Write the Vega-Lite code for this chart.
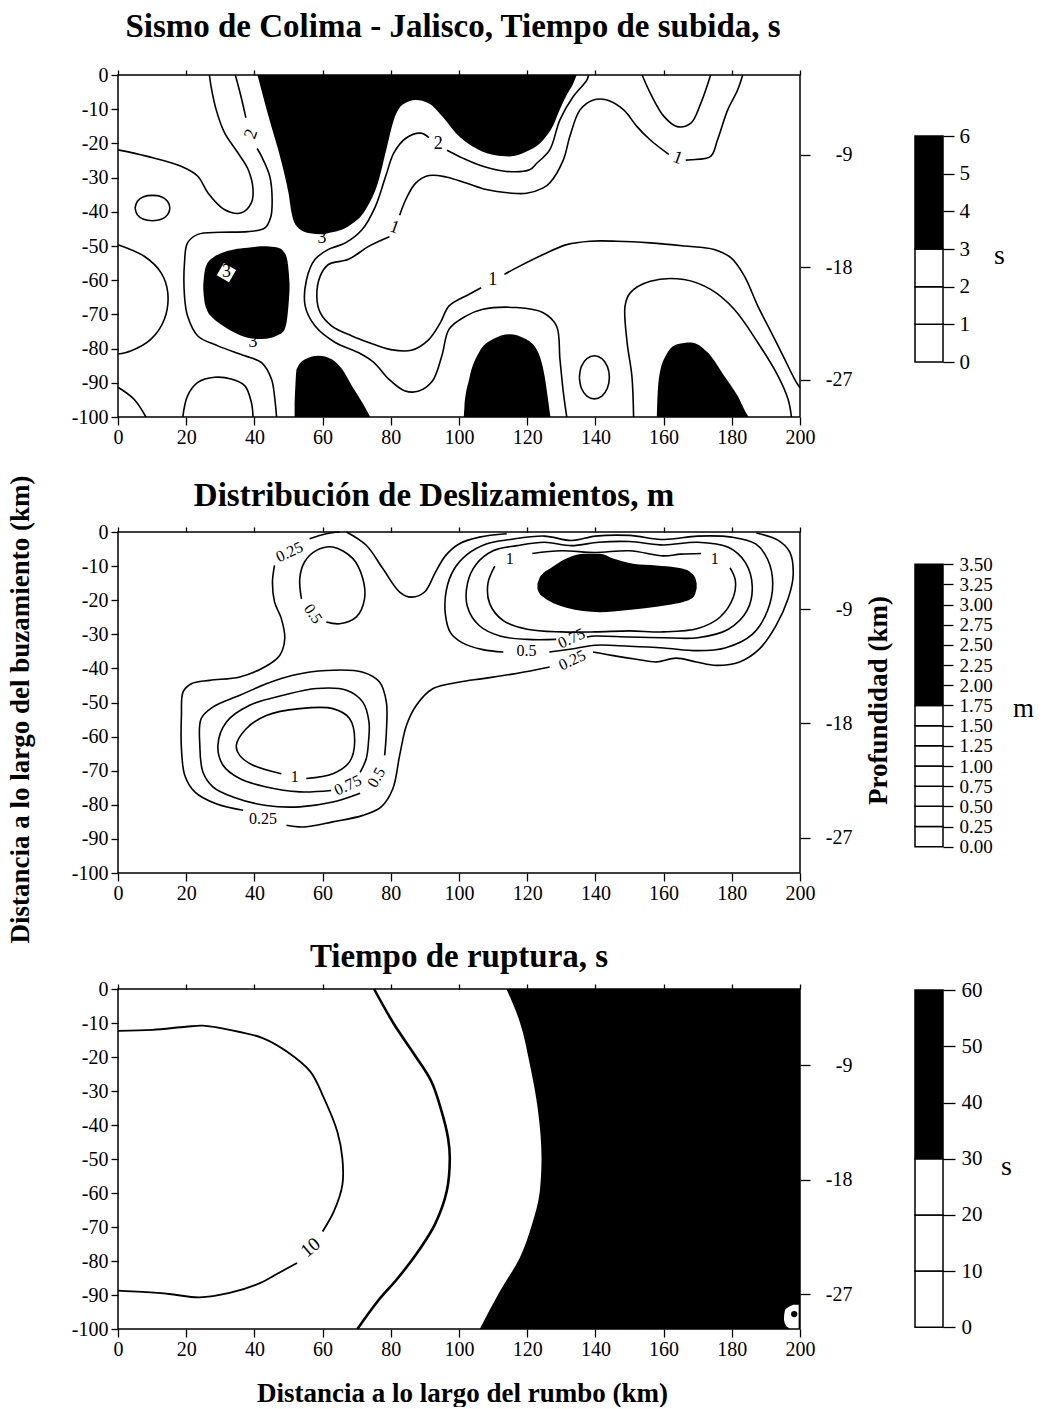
{
  "$schema": "https://vega.github.io/schema/vega-lite/v6.json",
  "background": "white",
  "padding": {"left": 5, "top": 10, "right": 0, "bottom": 0},
  "config": {
    "font": "Liberation Serif",
    "view": {"stroke": "black", "strokeWidth": 1.5},
    "axis": {"labelFont": "Liberation Serif", "labelFontSize": 20, "labelColor": "black", "tickColor": "black", "tickWidth": 1.3, "domainColor": "black", "grid": false, "labelFlush": false, "labelOverlap": false, "labelBound": false, "titleFont": "Liberation Serif", "titleFontSize": 27, "titleFontWeight": "bold", "titleColor": "black"},
    "title": {"font": "Liberation Serif", "fontSize": 33, "fontWeight": "bold", "color": "black", "anchor": "middle", "frame": "group", "baseline": "alphabetic"},
    "text": {"font": "Liberation Serif", "color": "black"}
  },
  "datasets": {
    "t_area": [
      {"g": "A", "x": 40.9, "y": 0, "y2": 0}, {"g": "A", "x": 43.1, "y": -8.3, "y2": 0}, {"g": "A", "x": 45, "y": -15.1, "y2": 0}, {"g": "A", "x": 47, "y": -21.9, "y2": 0}, {"g": "A", "x": 48.5, "y": -27.7, "y2": 0}, {"g": "A", "x": 50, "y": -34.5, "y2": 0}, {"g": "A", "x": 50.9, "y": -40.3, "y2": 0}, {"g": "A", "x": 52.4, "y": -44.2, "y2": 0}, {"g": "A", "x": 55.9, "y": -46.2, "y2": 0}, {"g": "A", "x": 59.8, "y": -46.6, "y2": 0}, {"g": "A", "x": 61.7, "y": -46.2, "y2": 0}, {"g": "A", "x": 67.6, "y": -44.2, "y2": 0}, {"g": "A", "x": 72.6, "y": -39.4, "y2": 0}, {"g": "A", "x": 76.5, "y": -30.6, "y2": 0}, {"g": "A", "x": 78.9, "y": -20.9, "y2": 0}, {"g": "A", "x": 80.9, "y": -13.1, "y2": 0}, {"g": "A", "x": 83.4, "y": -8.7, "y2": 0}, {"g": "A", "x": 87.3, "y": -7.3, "y2": 0}, {"g": "A", "x": 91.2, "y": -8.3, "y2": 0}, {"g": "A", "x": 95.2, "y": -12.2, "y2": 0}, {"g": "A", "x": 99.1, "y": -17, "y2": 0}, {"g": "A", "x": 104, "y": -20.9, "y2": 0}, {"g": "A", "x": 109.9, "y": -23.3, "y2": 0}, {"g": "A", "x": 114.8, "y": -23.8, "y2": 0}, {"g": "A", "x": 119.8, "y": -22.4, "y2": 0}, {"g": "A", "x": 124.7, "y": -19, "y2": 0}, {"g": "A", "x": 127.5, "y": -15, "y2": 0}, {"g": "A", "x": 129.6, "y": -10, "y2": 0}, {"g": "A", "x": 131.5, "y": -6, "y2": 0}, {"g": "A", "x": 133.5, "y": -2.5, "y2": 0}, {"g": "A", "x": 134.5, "y": 0, "y2": 0},
      {"g": "B", "x": 25.0, "y": -62.5, "y2": -61.5}, {"g": "B", "x": 25.2, "y": -65, "y2": -59}, {"g": "B", "x": 26, "y": -68.5, "y2": -55.5}, {"g": "B", "x": 28, "y": -71.2, "y2": -53.3}, {"g": "B", "x": 30, "y": -72.8, "y2": -52.2}, {"g": "B", "x": 34, "y": -75.2, "y2": -51}, {"g": "B", "x": 38, "y": -76.8, "y2": -50.5}, {"g": "B", "x": 42, "y": -77.2, "y2": -50.1}, {"g": "B", "x": 45, "y": -76.8, "y2": -50.2}, {"g": "B", "x": 47, "y": -76, "y2": -50.5}, {"g": "B", "x": 48.5, "y": -75, "y2": -51.5}, {"g": "B", "x": 49.5, "y": -72, "y2": -53.5}, {"g": "B", "x": 50.1, "y": -66, "y2": -58}, {"g": "B", "x": 50.3, "y": -63, "y2": -61},
      {"g": "C", "x": 51.8, "y": -100, "y2": -97}, {"g": "C", "x": 52.4, "y": -100, "y2": -86}, {"g": "C", "x": 54.9, "y": -100, "y2": -83.1}, {"g": "C", "x": 58.8, "y": -100, "y2": -82.1}, {"g": "C", "x": 62.7, "y": -100, "y2": -83.1}, {"g": "C", "x": 65.7, "y": -100, "y2": -86}, {"g": "C", "x": 68.6, "y": -100, "y2": -90.9}, {"g": "C", "x": 71.6, "y": -100, "y2": -95.7}, {"g": "C", "x": 73.5, "y": -100, "y2": -99.1}, {"g": "C", "x": 74, "y": -100, "y2": -100},
      {"g": "D", "x": 101.4, "y": -100, "y2": -100}, {"g": "D", "x": 101.6, "y": -100, "y2": -97}, {"g": "D", "x": 103, "y": -100, "y2": -88.9}, {"g": "D", "x": 105.9, "y": -100, "y2": -81.1}, {"g": "D", "x": 109.9, "y": -100, "y2": -77.3}, {"g": "D", "x": 114.8, "y": -100, "y2": -75.8}, {"g": "D", "x": 119.7, "y": -100, "y2": -77.3}, {"g": "D", "x": 123.2, "y": -100, "y2": -81.1}, {"g": "D", "x": 125.1, "y": -100, "y2": -88}, {"g": "D", "x": 126.1, "y": -100, "y2": -94.8}, {"g": "D", "x": 126.8, "y": -100, "y2": -100},
      {"g": "E", "x": 158, "y": -100, "y2": -100}, {"g": "E", "x": 158.1, "y": -100, "y2": -97}, {"g": "E", "x": 158.6, "y": -100, "y2": -88.9}, {"g": "E", "x": 160.6, "y": -100, "y2": -82.1}, {"g": "E", "x": 164, "y": -100, "y2": -78.7}, {"g": "E", "x": 168, "y": -100, "y2": -78.2}, {"g": "E", "x": 172.9, "y": -100, "y2": -81.1}, {"g": "E", "x": 177.8, "y": -100, "y2": -88}, {"g": "E", "x": 181.7, "y": -100, "y2": -93.8}, {"g": "E", "x": 184.7, "y": -100, "y2": -99.6}, {"g": "E", "x": 185, "y": -100, "y2": -100}
    ],
    "t_line": [
      {"g": "a", "x": 0, "y": -21.9}, {"g": "a", "x": 8.6, "y": -23.8}, {"g": "a", "x": 18.5, "y": -26.7}, {"g": "a", "x": 23.4, "y": -29.6}, {"g": "a", "x": 26.4, "y": -34.5}, {"g": "a", "x": 31.3, "y": -39.4}, {"g": "a", "x": 36.2, "y": -40.3}, {"g": "a", "x": 39.1, "y": -37.4}, {"g": "a", "x": 39.6, "y": -33.5}, {"g": "a", "x": 38.2, "y": -27.7}, {"g": "a", "x": 35.2, "y": -22.8}, {"g": "a", "x": 31.3, "y": -17}, {"g": "a", "x": 28.8, "y": -10.2}, {"g": "a", "x": 27.3, "y": -3.4}, {"g": "a", "x": 26.8, "y": 0},
      {"g": "e1", "x": 5.0, "y": -38.9}, {"g": "e1", "x": 5.7, "y": -36.9}, {"g": "e1", "x": 7.5, "y": -35.6}, {"g": "e1", "x": 10.1, "y": -35.2}, {"g": "e1", "x": 12.7, "y": -35.6}, {"g": "e1", "x": 14.5, "y": -36.9}, {"g": "e1", "x": 15.2, "y": -38.9}, {"g": "e1", "x": 14.5, "y": -40.9}, {"g": "e1", "x": 12.7, "y": -42.2}, {"g": "e1", "x": 10.1, "y": -42.6}, {"g": "e1", "x": 7.5, "y": -42.2}, {"g": "e1", "x": 5.7, "y": -40.9}, {"g": "e1", "x": 5.0, "y": -38.9},
      {"g": "c", "x": 0, "y": -49.6}, {"g": "c", "x": 7.7, "y": -53}, {"g": "c", "x": 12.6, "y": -57.8}, {"g": "c", "x": 14.6, "y": -63.7}, {"g": "c", "x": 13.6, "y": -71.4}, {"g": "c", "x": 9.6, "y": -77.3}, {"g": "c", "x": 3.7, "y": -80.7}, {"g": "c", "x": 0, "y": -81.6},
      {"g": "d", "x": 0, "y": -91.3}, {"g": "d", "x": 4.7, "y": -94.8}, {"g": "d", "x": 8.2, "y": -100},
      {"g": "e", "x": 19, "y": -100}, {"g": "e", "x": 20.4, "y": -93.8}, {"g": "e", "x": 23.4, "y": -89.9}, {"g": "e", "x": 28.3, "y": -88.4}, {"g": "e", "x": 33.2, "y": -88.9}, {"g": "e", "x": 37.2, "y": -90.9}, {"g": "e", "x": 39.1, "y": -95.7}, {"g": "e", "x": 39.6, "y": -100},
      {"g": "L2a", "x": 34.4, "y": 0}, {"g": "L2a", "x": 36, "y": -6}, {"g": "L2a", "x": 37.5, "y": -12.5},
      {"g": "L2b", "x": 40.8, "y": -21.5}, {"g": "L2b", "x": 42.1, "y": -23.8}, {"g": "L2b", "x": 44.5, "y": -29.6}, {"g": "L2b", "x": 45.2, "y": -36.4}, {"g": "L2b", "x": 44.8, "y": -41.5}, {"g": "L2b", "x": 43, "y": -44.8}, {"g": "L2b", "x": 38, "y": -45.8}, {"g": "L2b", "x": 30, "y": -46}, {"g": "L2b", "x": 23.4, "y": -46.6}, {"g": "L2b", "x": 20.4, "y": -49.1}, {"g": "L2b", "x": 19.5, "y": -54.9}, {"g": "L2b", "x": 19.5, "y": -64.6}, {"g": "L2b", "x": 20.4, "y": -70.5}, {"g": "L2b", "x": 23.4, "y": -76.3}, {"g": "L2b", "x": 29.3, "y": -79.2}, {"g": "L2b", "x": 37.2, "y": -82.1}, {"g": "L2b", "x": 42.1, "y": -84.1}, {"g": "L2b", "x": 45, "y": -88.9}, {"g": "L2b", "x": 46, "y": -94.8}, {"g": "L2b", "x": 46.5, "y": -100},
      {"g": "R2a", "x": 138, "y": 0}, {"g": "R2a", "x": 137.5, "y": -1.5}, {"g": "R2a", "x": 133.5, "y": -6.3}, {"g": "R2a", "x": 129.6, "y": -13.1}, {"g": "R2a", "x": 126.6, "y": -21.9}, {"g": "R2a", "x": 122.8, "y": -25.8}, {"g": "R2a", "x": 120.7, "y": -27.7}, {"g": "R2a", "x": 113.9, "y": -28.2}, {"g": "R2a", "x": 107, "y": -26.7}, {"g": "R2a", "x": 101.1, "y": -24.3}, {"g": "R2a", "x": 96.5, "y": -22},
      {"g": "R2b", "x": 91.2, "y": -18.3}, {"g": "R2b", "x": 88.8, "y": -17}, {"g": "R2b", "x": 84.4, "y": -18.5}, {"g": "R2b", "x": 80.9, "y": -22.8}, {"g": "R2b", "x": 78.5, "y": -29.6}, {"g": "R2b", "x": 75.5, "y": -38.4}, {"g": "R2b", "x": 71.6, "y": -45.2}, {"g": "R2b", "x": 66.7, "y": -49.1}, {"g": "R2b", "x": 61.7, "y": -51}, {"g": "R2b", "x": 57.8, "y": -53.9}, {"g": "R2b", "x": 55.3, "y": -59.8}, {"g": "R2b", "x": 54.9, "y": -67.6}, {"g": "R2b", "x": 57.8, "y": -73.4}, {"g": "R2b", "x": 63.7, "y": -78.2}, {"g": "R2b", "x": 70.6, "y": -81.2}, {"g": "R2b", "x": 75, "y": -84}, {"g": "R2b", "x": 79.4, "y": -88.9}, {"g": "R2b", "x": 84, "y": -92.3}, {"g": "R2b", "x": 88, "y": -92.5}, {"g": "R2b", "x": 92.2, "y": -89.5}, {"g": "R2b", "x": 95, "y": -82}, {"g": "R2b", "x": 97.1, "y": -74.3}, {"g": "R2b", "x": 102, "y": -70.5}, {"g": "R2b", "x": 107, "y": -68.5}, {"g": "R2b", "x": 116.8, "y": -68}, {"g": "R2b", "x": 124.7, "y": -69.5}, {"g": "R2b", "x": 128.6, "y": -73.4}, {"g": "R2b", "x": 129.6, "y": -83.1}, {"g": "R2b", "x": 130.6, "y": -92.8}, {"g": "R2b", "x": 131.6, "y": -100},
      {"g": "U1a", "x": 183.2, "y": 0}, {"g": "U1a", "x": 181.7, "y": -4.4}, {"g": "U1a", "x": 178.8, "y": -10.2}, {"g": "U1a", "x": 175.8, "y": -19}, {"g": "U1a", "x": 173.8, "y": -23.8}, {"g": "U1a", "x": 168, "y": -24.8}, {"g": "U1a", "x": 166.5, "y": -24.9},
      {"g": "U1b", "x": 161.5, "y": -23.2}, {"g": "U1b", "x": 156.1, "y": -19}, {"g": "U1b", "x": 152.2, "y": -15.1}, {"g": "U1b", "x": 148.3, "y": -10.2}, {"g": "U1b", "x": 143.4, "y": -7.3}, {"g": "U1b", "x": 139.4, "y": -7.3}, {"g": "U1b", "x": 135.5, "y": -10.2}, {"g": "U1b", "x": 132.5, "y": -18}, {"g": "U1b", "x": 130.6, "y": -24.8}, {"g": "U1b", "x": 126.6, "y": -31.6}, {"g": "U1b", "x": 124.7, "y": -33}, {"g": "U1b", "x": 119.8, "y": -34.6}, {"g": "U1b", "x": 114.8, "y": -34.5}, {"g": "U1b", "x": 108, "y": -33.5}, {"g": "U1b", "x": 102.1, "y": -31.6}, {"g": "U1b", "x": 96.2, "y": -29.8}, {"g": "U1b", "x": 91.2, "y": -29.4}, {"g": "U1b", "x": 87.3, "y": -31.6}, {"g": "U1b", "x": 84.4, "y": -36.4}, {"g": "U1b", "x": 82.6, "y": -41},
      {"g": "U1c", "x": 79.6, "y": -47.3}, {"g": "U1c", "x": 73.5, "y": -50.1}, {"g": "U1c", "x": 67.6, "y": -53.9}, {"g": "U1c", "x": 61.7, "y": -55.4}, {"g": "U1c", "x": 59.3, "y": -58.8}, {"g": "U1c", "x": 58.3, "y": -64.6}, {"g": "U1c", "x": 59.3, "y": -69.5}, {"g": "U1c", "x": 62.7, "y": -73.4}, {"g": "U1c", "x": 68.6, "y": -76.3}, {"g": "U1c", "x": 73.5, "y": -78.2}, {"g": "U1c", "x": 80, "y": -80.3}, {"g": "U1c", "x": 86, "y": -80.5}, {"g": "U1c", "x": 91, "y": -77.5}, {"g": "U1c", "x": 94.5, "y": -72.5}, {"g": "U1c", "x": 97.1, "y": -67.5}, {"g": "U1c", "x": 103, "y": -64.1}, {"g": "U1c", "x": 106.5, "y": -62.2},
      {"g": "U1d", "x": 113.3, "y": -58.3}, {"g": "U1d", "x": 116.8, "y": -56.4}, {"g": "U1d", "x": 124.7, "y": -52.5}, {"g": "U1d", "x": 131.6, "y": -49.6}, {"g": "U1d", "x": 138.4, "y": -48.6}, {"g": "U1d", "x": 146.3, "y": -48.6}, {"g": "U1d", "x": 156.1, "y": -49.1}, {"g": "U1d", "x": 166, "y": -50}, {"g": "U1d", "x": 174.8, "y": -51}, {"g": "U1d", "x": 179.8, "y": -53.5}, {"g": "U1d", "x": 183.7, "y": -58.8}, {"g": "U1d", "x": 187.6, "y": -67.5}, {"g": "U1d", "x": 191.6, "y": -75.3}, {"g": "U1d", "x": 195.5, "y": -83.1}, {"g": "U1d", "x": 198.4, "y": -88.9}, {"g": "U1d", "x": 200, "y": -91.5},
      {"g": "U", "x": 153.7, "y": 0}, {"g": "U", "x": 156.1, "y": -5.3}, {"g": "U", "x": 160.1, "y": -12.1}, {"g": "U", "x": 164, "y": -15.1}, {"g": "U", "x": 168, "y": -14.1}, {"g": "U", "x": 170.9, "y": -8.3}, {"g": "U", "x": 173.8, "y": 0},
      {"g": "e2", "x": 135.3, "y": -88.4}, {"g": "e2", "x": 135.9, "y": -85.2}, {"g": "e2", "x": 137.5, "y": -82.9}, {"g": "e2", "x": 139.7, "y": -82.1}, {"g": "e2", "x": 141.9, "y": -82.9}, {"g": "e2", "x": 143.5, "y": -85.2}, {"g": "e2", "x": 144.1, "y": -88.4}, {"g": "e2", "x": 143.5, "y": -91.6}, {"g": "e2", "x": 141.9, "y": -93.9}, {"g": "e2", "x": 139.7, "y": -94.7}, {"g": "e2", "x": 137.5, "y": -93.9}, {"g": "e2", "x": 135.9, "y": -91.6}, {"g": "e2", "x": 135.3, "y": -88.4},
      {"g": "E2", "x": 151.2, "y": -100}, {"g": "E2", "x": 150.7, "y": -88}, {"g": "E2", "x": 149.3, "y": -78.2}, {"g": "E2", "x": 148.7, "y": -67.5}, {"g": "E2", "x": 150.2, "y": -63.7}, {"g": "E2", "x": 156.1, "y": -60.3}, {"g": "E2", "x": 166, "y": -59.8}, {"g": "E2", "x": 173.8, "y": -62.7}, {"g": "E2", "x": 180.7, "y": -68.5}, {"g": "E2", "x": 187.6, "y": -78.2}, {"g": "E2", "x": 193.5, "y": -87.9}, {"g": "E2", "x": 196.5, "y": -94.8}, {"g": "E2", "x": 197.5, "y": -100}
    ],
    "t_text": [
      {"k": "t1", "t": "2", "x": 39.1, "y": -17.3}, {"k": "t2", "t": "2", "x": 93.9, "y": -20.3}, {"k": "t3", "t": "1", "x": 164.1, "y": -24.3}, {"k": "t4", "t": "1", "x": 81.1, "y": -44.6}, {"k": "t5", "t": "1", "x": 109.9, "y": -60}, {"k": "t6", "t": "3", "x": 59.8, "y": -47.8}, {"k": "t7", "t": "3", "x": 39.6, "y": -78}, {"k": "t8", "t": "3", "x": 31.8, "y": -57.6}
    ],
    "m_area": [
      {"g": "K", "x": 123.0, "y": -16.8, "y2": -15.2}, {"g": "K", "x": 123.6, "y": -18, "y2": -13.5}, {"g": "K", "x": 124.6, "y": -19, "y2": -12.2}, {"g": "K", "x": 126.6, "y": -20.3, "y2": -10.8}, {"g": "K", "x": 131.5, "y": -22.2, "y2": -7.8}, {"g": "K", "x": 136.4, "y": -23.2, "y2": -6.4}, {"g": "K", "x": 141.3, "y": -23.5, "y2": -6.4}, {"g": "K", "x": 145.2, "y": -23.3, "y2": -7.8}, {"g": "K", "x": 151.1, "y": -22.7, "y2": -9.3}, {"g": "K", "x": 157.9, "y": -21.9, "y2": -9.8}, {"g": "K", "x": 163.7, "y": -21, "y2": -10.4}, {"g": "K", "x": 165.7, "y": -20.5, "y2": -10.8}, {"g": "K", "x": 168.1, "y": -19.6, "y2": -12}, {"g": "K", "x": 169.3, "y": -18, "y2": -13.5}, {"g": "K", "x": 169.7, "y": -16.5, "y2": -15}
    ],
    "m_line": [
      {"g": "p25a", "x": 65, "y": 0}, {"g": "p25a", "x": 61.1, "y": -0.5}, {"g": "p25a", "x": 56.2, "y": -2},
      {"g": "p25b", "x": 45.9, "y": -9.8}, {"g": "p25b", "x": 45.3, "y": -14.7}, {"g": "p25b", "x": 45.9, "y": -20.5}, {"g": "p25b", "x": 47.9, "y": -25.4}, {"g": "p25b", "x": 48.9, "y": -31.3}, {"g": "p25b", "x": 47.4, "y": -36.2}, {"g": "p25b", "x": 43, "y": -39.6}, {"g": "p25b", "x": 35.7, "y": -42.5}, {"g": "p25b", "x": 26.9, "y": -43.5}, {"g": "p25b", "x": 21.5, "y": -44.5}, {"g": "p25b", "x": 19.1, "y": -46.9}, {"g": "p25b", "x": 18.6, "y": -53.8}, {"g": "p25b", "x": 18.6, "y": -63.5}, {"g": "p25b", "x": 19.6, "y": -71.4}, {"g": "p25b", "x": 22.5, "y": -76.2}, {"g": "p25b", "x": 28.8, "y": -79.7}, {"g": "p25b", "x": 36.7, "y": -81.6},
      {"g": "p25c", "x": 49.4, "y": -86}, {"g": "p25c", "x": 54.3, "y": -86.5}, {"g": "p25c", "x": 63, "y": -85}, {"g": "p25c", "x": 71.8, "y": -83.1}, {"g": "p25c", "x": 77.2, "y": -80.6}, {"g": "p25c", "x": 80.6, "y": -75.3}, {"g": "p25c", "x": 82.6, "y": -65.5}, {"g": "p25c", "x": 84.6, "y": -56.7}, {"g": "p25c", "x": 87.5, "y": -50.8}, {"g": "p25c", "x": 92.4, "y": -45.9}, {"g": "p25c", "x": 100.2, "y": -44}, {"g": "p25c", "x": 107, "y": -43}, {"g": "p25c", "x": 116.8, "y": -41.5}, {"g": "p25c", "x": 126.6, "y": -39.6},
      {"g": "p25d", "x": 139.3, "y": -35.2}, {"g": "p25d", "x": 146.1, "y": -36.4}, {"g": "p25d", "x": 152, "y": -37.3}, {"g": "p25d", "x": 157.9, "y": -38.1}, {"g": "p25d", "x": 163.7, "y": -37}, {"g": "p25d", "x": 169.6, "y": -38.1}, {"g": "p25d", "x": 175.4, "y": -39.1}, {"g": "p25d", "x": 182.3, "y": -38.1}, {"g": "p25d", "x": 188.2, "y": -34.2}, {"g": "p25d", "x": 193, "y": -27.4}, {"g": "p25d", "x": 196.5, "y": -19.6}, {"g": "p25d", "x": 198, "y": -12.7}, {"g": "p25d", "x": 197, "y": -5.9}, {"g": "p25d", "x": 193.5, "y": -2.4}, {"g": "p25d", "x": 187.2, "y": -0.3},
      {"g": "p25e", "x": 67, "y": 0}, {"g": "p25e", "x": 72.8, "y": -3.9}, {"g": "p25e", "x": 77.7, "y": -10.8}, {"g": "p25e", "x": 82.6, "y": -17.6}, {"g": "p25e", "x": 86, "y": -19.1}, {"g": "p25e", "x": 89.9, "y": -17.6}, {"g": "p25e", "x": 93, "y": -12}, {"g": "p25e", "x": 96, "y": -7}, {"g": "p25e", "x": 100, "y": -3.5}, {"g": "p25e", "x": 106, "y": -1.5}, {"g": "p25e", "x": 114, "y": -0.5},
      {"g": "q5a", "x": 53.8, "y": -19.6}, {"g": "q5a", "x": 53.3, "y": -13.7}, {"g": "q5a", "x": 54.7, "y": -8.8}, {"g": "q5a", "x": 58.2, "y": -5.4}, {"g": "q5a", "x": 63, "y": -4.4}, {"g": "q5a", "x": 68.9, "y": -7.8}, {"g": "q5a", "x": 71.8, "y": -13.7}, {"g": "q5a", "x": 72.3, "y": -19.6}, {"g": "q5a", "x": 69.9, "y": -24.9}, {"g": "q5a", "x": 65, "y": -26.9}, {"g": "q5a", "x": 61.1, "y": -26.4},
      {"g": "q5L", "x": 78.2, "y": -65.5}, {"g": "q5L", "x": 78.7, "y": -58.7}, {"g": "q5L", "x": 78.7, "y": -49.9}, {"g": "q5L", "x": 76.7, "y": -44}, {"g": "q5L", "x": 71.8, "y": -41.1}, {"g": "q5L", "x": 61.1, "y": -40.6}, {"g": "q5L", "x": 51.3, "y": -42}, {"g": "q5L", "x": 43.5, "y": -44.5}, {"g": "q5L", "x": 35.7, "y": -47.9}, {"g": "q5L", "x": 27.9, "y": -51.3}, {"g": "q5L", "x": 24.4, "y": -54.7}, {"g": "q5L", "x": 24, "y": -62.6}, {"g": "q5L", "x": 24.9, "y": -70.4}, {"g": "q5L", "x": 27.9, "y": -74.8}, {"g": "q5L", "x": 33.7, "y": -77.7}, {"g": "q5L", "x": 43.5, "y": -80.2}, {"g": "q5L", "x": 53.3, "y": -80.6}, {"g": "q5L", "x": 63, "y": -79.2}, {"g": "q5L", "x": 71, "y": -76.6},
      {"g": "q75L", "x": 71, "y": -70.5}, {"g": "q75L", "x": 72.8, "y": -66.5}, {"g": "q75L", "x": 73.5, "y": -61}, {"g": "q75L", "x": 73.6, "y": -55.7}, {"g": "q75L", "x": 71.8, "y": -49.9}, {"g": "q75L", "x": 67, "y": -46.4}, {"g": "q75L", "x": 58.2, "y": -45.9}, {"g": "q75L", "x": 48.4, "y": -47.9}, {"g": "q75L", "x": 38.6, "y": -50.8}, {"g": "q75L", "x": 31.8, "y": -55.7}, {"g": "q75L", "x": 29.3, "y": -62.6}, {"g": "q75L", "x": 30.8, "y": -68.4}, {"g": "q75L", "x": 35.7, "y": -72.3}, {"g": "q75L", "x": 43.5, "y": -74.8}, {"g": "q75L", "x": 53.3, "y": -76.2}, {"g": "q75L", "x": 62.5, "y": -75.8},
      {"g": "q1L", "x": 55.2, "y": -72.3}, {"g": "q1L", "x": 63, "y": -70.9}, {"g": "q1L", "x": 67.9, "y": -67.4}, {"g": "q1L", "x": 69.4, "y": -61.6}, {"g": "q1L", "x": 67.9, "y": -54.7}, {"g": "q1L", "x": 63, "y": -51.8}, {"g": "q1L", "x": 53.3, "y": -51.8}, {"g": "q1L", "x": 43.5, "y": -53.8}, {"g": "q1L", "x": 37.6, "y": -57.7}, {"g": "q1L", "x": 34.7, "y": -62.6}, {"g": "q1L", "x": 35.7, "y": -65.5}, {"g": "q1L", "x": 39.6, "y": -68.4}, {"g": "q1L", "x": 47.9, "y": -70.9},
      {"g": "r5", "x": 113, "y": -35.2}, {"g": "r5", "x": 107, "y": -34.5}, {"g": "r5", "x": 101, "y": -32.5}, {"g": "r5", "x": 97.5, "y": -29.5}, {"g": "r5", "x": 96, "y": -24}, {"g": "r5", "x": 96.3, "y": -17}, {"g": "r5", "x": 98.5, "y": -11}, {"g": "r5", "x": 102.5, "y": -6.5}, {"g": "r5", "x": 108, "y": -3.5}, {"g": "r5", "x": 115, "y": -2.2}, {"g": "r5", "x": 125, "y": -1.2}, {"g": "r5", "x": 133, "y": -2.5}, {"g": "r5", "x": 140, "y": -1.2}, {"g": "r5", "x": 150, "y": -1}, {"g": "r5", "x": 160, "y": -2.2}, {"g": "r5", "x": 170, "y": -1.2}, {"g": "r5", "x": 180, "y": -1.5}, {"g": "r5", "x": 187, "y": -3.5}, {"g": "r5", "x": 190.5, "y": -8}, {"g": "r5", "x": 192, "y": -15}, {"g": "r5", "x": 190.5, "y": -23}, {"g": "r5", "x": 186, "y": -30}, {"g": "r5", "x": 178, "y": -34}, {"g": "r5", "x": 170, "y": -34.8}, {"g": "r5", "x": 160, "y": -34}, {"g": "r5", "x": 150, "y": -33.5}, {"g": "r5", "x": 140, "y": -33.2}, {"g": "r5", "x": 133, "y": -34.3}, {"g": "r5", "x": 126.5, "y": -35.2},
      {"g": "r75", "x": 128.5, "y": -31.5}, {"g": "r75", "x": 120, "y": -31.5}, {"g": "r75", "x": 112, "y": -30.5}, {"g": "r75", "x": 106, "y": -27.5}, {"g": "r75", "x": 102.5, "y": -22}, {"g": "r75", "x": 102.5, "y": -15}, {"g": "r75", "x": 105, "y": -9.5}, {"g": "r75", "x": 110, "y": -5.5}, {"g": "r75", "x": 117, "y": -4}, {"g": "r75", "x": 125, "y": -3}, {"g": "r75", "x": 133, "y": -4}, {"g": "r75", "x": 141, "y": -3}, {"g": "r75", "x": 150, "y": -2.8}, {"g": "r75", "x": 160, "y": -3.8}, {"g": "r75", "x": 170, "y": -3}, {"g": "r75", "x": 179, "y": -4.5}, {"g": "r75", "x": 184, "y": -9}, {"g": "r75", "x": 186, "y": -16}, {"g": "r75", "x": 184.5, "y": -23}, {"g": "r75", "x": 179, "y": -28.5}, {"g": "r75", "x": 170, "y": -31}, {"g": "r75", "x": 160, "y": -31}, {"g": "r75", "x": 150, "y": -30.8}, {"g": "r75", "x": 140, "y": -30.5}, {"g": "r75", "x": 137.5, "y": -30.8},
      {"g": "r1", "x": 110.5, "y": -10}, {"g": "r1", "x": 108.5, "y": -15}, {"g": "r1", "x": 109, "y": -21}, {"g": "r1", "x": 113, "y": -26}, {"g": "r1", "x": 120, "y": -28.5}, {"g": "r1", "x": 130, "y": -29.3}, {"g": "r1", "x": 140, "y": -29.3}, {"g": "r1", "x": 150, "y": -29}, {"g": "r1", "x": 160, "y": -29.3}, {"g": "r1", "x": 170, "y": -28.3}, {"g": "r1", "x": 176.5, "y": -25}, {"g": "r1", "x": 180.5, "y": -19}, {"g": "r1", "x": 181, "y": -14}, {"g": "r1", "x": 179.5, "y": -10.5},
      {"g": "r1b", "x": 171, "y": -6.3}, {"g": "r1b", "x": 165, "y": -6.5}, {"g": "r1b", "x": 160, "y": -7}, {"g": "r1b", "x": 150, "y": -5.5}, {"g": "r1b", "x": 140, "y": -6}, {"g": "r1b", "x": 130, "y": -5.5}, {"g": "r1b", "x": 121.5, "y": -6.3}
    ],
    "m_text": [
      {"k": "m1", "t": "0.25", "x": 50.3, "y": -5.9}, {"k": "m2", "t": "0.5", "x": 57.2, "y": -24}, {"k": "m3", "t": "1", "x": 51.8, "y": -71.8}, {"k": "m4", "t": "0.75", "x": 67.4, "y": -74.3}, {"k": "m5", "t": "0.5", "x": 75.8, "y": -72}, {"k": "m6", "t": "0.25", "x": 42.5, "y": -84.3}, {"k": "m7", "t": "1", "x": 114.9, "y": -7.8}, {"k": "m8", "t": "0.75", "x": 133, "y": -31.2}, {"k": "m9", "t": "0.5", "x": 119.8, "y": -35}, {"k": "m10", "t": "0.25", "x": 133.2, "y": -37.6}, {"k": "m11", "t": "1", "x": 175, "y": -7.8}
    ],
    "b_area": [
      {"g": "K", "y": 0, "x": 113.9, "x2": 200}, {"g": "K", "y": -9.6, "x": 117.8, "x2": 200}, {"g": "K", "y": -22.3, "x": 120.8, "x2": 200}, {"g": "K", "y": -36, "x": 123.2, "x2": 200}, {"g": "K", "y": -49.8, "x": 124.2, "x2": 200}, {"g": "K", "y": -59.5, "x": 123.7, "x2": 200}, {"g": "K", "y": -69.3, "x": 121.4, "x2": 200}, {"g": "K", "y": -79.1, "x": 117.8, "x2": 200}, {"g": "K", "y": -88.9, "x": 112, "x2": 200}, {"g": "K", "y": -100, "x": 106.1, "x2": 200}
    ],
    "b_hole": [
      {"g": "W", "y": -92.9, "x": 198, "x2": 199.6}, {"g": "W", "y": -94.5, "x": 195.6, "x2": 199.6}, {"g": "W", "y": -97, "x": 195.3, "x2": 199.6}, {"g": "W", "y": -99.2, "x": 196, "x2": 199.6}, {"g": "W", "y": -99.8, "x": 197, "x2": 199.6}
    ],
    "b_line": [
      {"g": "t10a", "x": 0, "y": -12.3}, {"g": "t10a", "x": 10.1, "y": -12}, {"g": "t10a", "x": 19.9, "y": -11.1}, {"g": "t10a", "x": 24.9, "y": -10.8}, {"g": "t10a", "x": 32.7, "y": -12}, {"g": "t10a", "x": 42.6, "y": -14.5}, {"g": "t10a", "x": 49.5, "y": -18.4}, {"g": "t10a", "x": 56.4, "y": -24.3}, {"g": "t10a", "x": 60.4, "y": -32.1}, {"g": "t10a", "x": 64.3, "y": -41.9}, {"g": "t10a", "x": 65.8, "y": -49.8}, {"g": "t10a", "x": 65.8, "y": -57.6}, {"g": "t10a", "x": 63.3, "y": -65.4}, {"g": "t10a", "x": 60, "y": -71.3},
      {"g": "t10b", "x": 52.5, "y": -80.6}, {"g": "t10b", "x": 47, "y": -83.6}, {"g": "t10b", "x": 41.6, "y": -86.5}, {"g": "t10b", "x": 32.7, "y": -89.4}, {"g": "t10b", "x": 23.9, "y": -90.7}, {"g": "t10b", "x": 15, "y": -89.7}, {"g": "t10b", "x": 7.1, "y": -89.1}, {"g": "t10b", "x": 0, "y": -88.7},
      {"g": "t20", "x": 75.1, "y": 0}, {"g": "t20", "x": 81.1, "y": -10.6}, {"g": "t20", "x": 87, "y": -19.4}, {"g": "t20", "x": 91.9, "y": -27.2}, {"g": "t20", "x": 94.9, "y": -36}, {"g": "t20", "x": 96.8, "y": -43.9}, {"g": "t20", "x": 97.3, "y": -49.8}, {"g": "t20", "x": 96.4, "y": -59.5}, {"g": "t20", "x": 92.9, "y": -69.3}, {"g": "t20", "x": 88, "y": -77.2}, {"g": "t20", "x": 82.1, "y": -85}, {"g": "t20", "x": 76.1, "y": -91.9}, {"g": "t20", "x": 70.2, "y": -100}
    ],
    "b_text": [{"t": "10", "x": 56.4, "y": -76}],
    "cb1": [{"lo": 0, "hi": 1}, {"lo": 1, "hi": 2}, {"lo": 2, "hi": 3}, {"lo": 3, "hi": 6}],
    "cb2": [{"lo": 0, "hi": 0.25}, {"lo": 0.25, "hi": 0.5}, {"lo": 0.5, "hi": 0.75}, {"lo": 0.75, "hi": 1}, {"lo": 1, "hi": 1.25}, {"lo": 1.25, "hi": 1.5}, {"lo": 1.5, "hi": 1.75}, {"lo": 1.75, "hi": 3.5}],
    "cb3": [{"lo": 0, "hi": 10}, {"lo": 10, "hi": 20}, {"lo": 20, "hi": 30}, {"lo": 30, "hi": 60}]
  },
  "vconcat": [
    {
      "hconcat": [
        {
          "width": 682, "height": 342,
          "title": {"text": "Sismo de Colima - Jalisco, Tiempo de subida, s", "offset": 21, "dx": -6},
          "layer": [
            {
              "encoding": {
                "x": {"field": "x", "type": "quantitative", "scale": {"domain": [0, 200], "nice": false, "zero": false}, "axis": {"values": [0, 20, 40, 60, 80, 100, 120, 140, 160, 180, 200], "tickSize": 8, "labelPadding": 2, "domain": false, "title": null}},
                "y": {"field": "y", "type": "quantitative", "scale": {"domain": [-100, 0], "nice": false, "zero": false}, "axis": {"values": [-100, -90, -80, -70, -60, -50, -40, -30, -20, -10, 0], "tickSize": 7, "labelPadding": 3, "domain": false, "title": null, "labelExpr": "'' + datum.value"}}
              },
              "layer": [
                {"data": {"name": "t_area"}, "mark": {"type": "area", "color": "black", "interpolate": "monotone"}, "encoding": {"y2": {"field": "y2"}, "detail": {"field": "g"}}},
                {"data": {"name": "t_line"}, "mark": {"type": "line", "color": "black", "strokeWidth": 1.6, "interpolate": "catmull-rom"}, "encoding": {"detail": {"field": "g"}, "order": {"value": null}}},
                {"data": {"values": [{"x": 31.8, "y": -57.8}]}, "mark": {"type": "point", "shape": "square", "filled": true, "color": "white", "opacity": 1, "size": 200, "angle": 30}},
                {"data": {"name": "t_text"}, "transform": [{"filter": "indexof(['t1','t3','t4'], datum.k) < 0"}], "mark": {"type": "text", "fontSize": 18}, "encoding": {"text": {"field": "t"}}},
                {"data": {"name": "t_text"}, "transform": [{"filter": "datum.k == 't1'"}], "mark": {"type": "text", "fontSize": 18, "angle": 290}, "encoding": {"text": {"field": "t"}}},
                {"data": {"name": "t_text"}, "transform": [{"filter": "datum.k == 't3' || datum.k == 't4'"}], "mark": {"type": "text", "fontSize": 18, "angle": 20}, "encoding": {"text": {"field": "t"}}}
              ]
            },
            {
              "data": {"values": [{"d": -9}, {"d": -18}, {"d": -27}]},
              "mark": {"type": "point", "opacity": 0},
              "encoding": {
                "y": {"field": "d", "type": "quantitative", "scale": {"domain": [-30.0, -2.6], "nice": false, "zero": false}, "axis": {"orient": "right", "values": [-9, -18, -27], "tickSize": 10, "labelAlign": "right", "labelPadding": 42, "labelExpr": "'' + datum.value", "domain": false, "title": null}},
                "x": {"datum": 100, "type": "quantitative", "scale": {"domain": [0, 200], "nice": false, "zero": false}, "axis": {"orient": "top", "values": [0, 20, 40, 60, 80, 100, 120, 140, 160, 180, 200], "labels": false, "tickSize": 5, "domain": false, "title": null}}
              }
            }
          ],
          "resolve": {"scale": {"x": "independent", "y": "independent"}, "axis": {"x": "independent", "y": "independent"}}
        },
        {
          "width": 28, "height": 342, "view": {"stroke": null},
          "data": {"name": "cb1"},
          "mark": {"type": "rect", "stroke": "black", "strokeWidth": 1.5},
          "encoding": {
            "x": {"datum": 0, "type": "quantitative", "scale": {"domain": [0, 1]}, "axis": null},
            "x2": {"datum": 1},
            "y": {"field": "lo", "type": "quantitative", "scale": {"domain": [-1.46, 7.62], "nice": false, "zero": false}, "axis": {"orient": "right", "values": [0, 1, 2, 3, 4, 5, 6], "tickSize": 11, "labelPadding": 5, "labelFontSize": 21, "domain": false, "title": "s", "titleAngle": 0, "titleFontWeight": "normal", "titleFontSize": 28, "titleX": 56, "titleY": 180, "titleAlign": "center", "titleBaseline": "middle"}},
            "y2": {"field": "hi"},
            "color": {"condition": {"test": "datum.lo >= 3", "value": "black"}, "value": "white"}
          }
        }
      ],
      "spacing": 115, "bounds": "flush"
    },
    {
      "hconcat": [
        {
          "width": 682, "height": 341,
          "title": {"text": "Distribución de Deslizamientos, m", "offset": -38, "dx": -25},
          "layer": [
            {
              "encoding": {
                "x": {"field": "x", "type": "quantitative", "scale": {"domain": [0, 200], "nice": false, "zero": false}, "axis": {"values": [0, 20, 40, 60, 80, 100, 120, 140, 160, 180, 200], "tickSize": 8, "labelPadding": 2, "domain": false, "title": null}},
                "y": {"field": "y", "type": "quantitative", "scale": {"domain": [-100, 0], "nice": false, "zero": false}, "axis": {"values": [-100, -90, -80, -70, -60, -50, -40, -30, -20, -10, 0], "tickSize": 7, "labelPadding": 3, "domain": false, "labelExpr": "'' + datum.value", "title": "Distancia a lo largo del buzamiento (km)", "titleX": -98, "titleY": 177, "titleAlign": "center", "titleBaseline": "middle", "titleAngle": 270}}
              },
              "layer": [
                {"data": {"name": "m_area"}, "mark": {"type": "area", "color": "black", "interpolate": "monotone"}, "encoding": {"y2": {"field": "y2"}, "detail": {"field": "g"}}},
                {"data": {"name": "m_line"}, "mark": {"type": "line", "color": "black", "strokeWidth": 1.6, "interpolate": "catmull-rom"}, "encoding": {"detail": {"field": "g"}, "order": {"value": null}}},
                {"data": {"name": "m_text"}, "transform": [{"filter": "indexof(['m3','m6','m7','m9','m11'], datum.k) >= 0"}], "mark": {"type": "text", "fontSize": 16}, "encoding": {"text": {"field": "t"}}},
                {"data": {"name": "m_text"}, "transform": [{"filter": "indexof(['m1','m4','m8','m10'], datum.k) >= 0"}], "mark": {"type": "text", "fontSize": 16, "angle": 335}, "encoding": {"text": {"field": "t"}}},
                {"data": {"name": "m_text"}, "transform": [{"filter": "datum.k == 'm2'"}], "mark": {"type": "text", "fontSize": 16, "angle": 55}, "encoding": {"text": {"field": "t"}}},
                {"data": {"name": "m_text"}, "transform": [{"filter": "datum.k == 'm5'"}], "mark": {"type": "text", "fontSize": 16, "angle": 300}, "encoding": {"text": {"field": "t"}}}
              ]
            },
            {
              "data": {"values": [{"d": -9}, {"d": -18}, {"d": -27}]},
              "mark": {"type": "point", "opacity": 0},
              "encoding": {
                "y": {"field": "d", "type": "quantitative", "scale": {"domain": [-29.76, -2.94], "nice": false, "zero": false}, "axis": {"orient": "right", "values": [-9, -18, -27], "tickSize": 10, "labelAlign": "right", "labelPadding": 42, "labelExpr": "'' + datum.value", "domain": false, "title": "Profundidad (km)", "titleX": 78, "titleY": 168, "titleAngle": 270, "titleAlign": "center", "titleBaseline": "middle"}},
                "x": {"datum": 100, "type": "quantitative", "scale": {"domain": [0, 200], "nice": false, "zero": false}, "axis": {"orient": "top", "values": [0, 20, 40, 60, 80, 100, 120, 140, 160, 180, 200], "labels": false, "tickSize": 5, "domain": false, "title": null}}
              }
            }
          ],
          "resolve": {"scale": {"x": "independent", "y": "independent"}, "axis": {"x": "independent", "y": "independent"}}
        },
        {
          "width": 28, "height": 341, "view": {"stroke": null},
          "data": {"name": "cb2"},
          "mark": {"type": "rect", "stroke": "black", "strokeWidth": 1.5},
          "encoding": {
            "x": {"datum": 0, "type": "quantitative", "scale": {"domain": [0, 1]}, "axis": null},
            "x2": {"datum": 1},
            "y": {"field": "lo", "type": "quantitative", "scale": {"domain": [-0.326, 3.9], "nice": false, "zero": false}, "axis": {"orient": "right", "values": [0, 0.25, 0.5, 0.75, 1, 1.25, 1.5, 1.75, 2, 2.25, 2.5, 2.75, 3, 3.25, 3.5], "format": ".2f", "tickSize": 10, "labelPadding": 6, "labelFontSize": 19, "domain": false, "title": "m", "titleAngle": 0, "titleFontWeight": "normal", "titleFontSize": 27, "titleX": 80, "titleY": 176, "titleAlign": "center", "titleBaseline": "middle"}},
            "y2": {"field": "hi"},
            "color": {"condition": {"test": "datum.lo >= 1.75", "value": "black"}, "value": "white"}
          }
        }
      ],
      "spacing": 115, "bounds": "flush"
    },
    {
      "hconcat": [
        {
          "width": 682, "height": 340,
          "title": {"text": "Tiempo de ruptura, s", "offset": 5},
          "layer": [
            {
              "encoding": {
                "x": {"field": "x", "type": "quantitative", "scale": {"domain": [0, 200], "nice": false, "zero": false}, "axis": {"values": [0, 20, 40, 60, 80, 100, 120, 140, 160, 180, 200], "tickSize": 8, "labelPadding": 2, "domain": false, "title": "Distancia a lo largo del  rumbo (km)", "titleX": 344, "titleY": 72, "titleAlign": "center", "titleBaseline": "alphabetic"}},
                "y": {"field": "y", "type": "quantitative", "scale": {"domain": [-100, 0], "nice": false, "zero": false}, "axis": {"values": [-100, -90, -80, -70, -60, -50, -40, -30, -20, -10, 0], "tickSize": 7, "labelPadding": 3, "domain": false, "title": null, "labelExpr": "'' + datum.value"}}
              },
              "layer": [
                {"data": {"name": "b_area"}, "mark": {"type": "area", "color": "black", "orient": "horizontal", "interpolate": "monotone"}, "encoding": {"x2": {"field": "x2"}, "detail": {"field": "g"}}},
                {"data": {"name": "b_hole"}, "mark": {"type": "area", "color": "white", "orient": "horizontal", "interpolate": "monotone"}, "encoding": {"x2": {"field": "x2"}, "detail": {"field": "g"}}},
                {"data": {"values": [{"x": 198.3, "y": -95.6}]}, "mark": {"type": "point", "filled": true, "color": "black", "opacity": 1, "size": 40}},
                {"data": {"name": "b_line"}, "transform": [{"filter": "datum.g != 't20'"}], "mark": {"type": "line", "color": "black", "strokeWidth": 1.8, "interpolate": "catmull-rom"}, "encoding": {"detail": {"field": "g"}, "order": {"value": null}}},
                {"data": {"name": "b_line"}, "transform": [{"filter": "datum.g == 't20'"}], "mark": {"type": "line", "color": "black", "strokeWidth": 2.6, "interpolate": "catmull-rom"}, "encoding": {"detail": {"field": "g"}, "order": {"value": null}}},
                {"data": {"name": "b_text"}, "mark": {"type": "text", "fontSize": 19, "angle": 320}, "encoding": {"text": {"field": "t"}}}
              ]
            },
            {
              "data": {"values": [{"d": -9}, {"d": -18}, {"d": -27}]},
              "mark": {"type": "point", "opacity": 0},
              "encoding": {
                "y": {"field": "d", "type": "quantitative", "scale": {"domain": [-29.73, -3.0], "nice": false, "zero": false}, "axis": {"orient": "right", "values": [-9, -18, -27], "tickSize": 10, "labelAlign": "right", "labelPadding": 42, "labelExpr": "'' + datum.value", "domain": false, "title": null}},
                "x": {"datum": 100, "type": "quantitative", "scale": {"domain": [0, 200], "nice": false, "zero": false}, "axis": {"orient": "top", "values": [0, 20, 40, 60, 80, 100, 120, 140, 160, 180, 200], "labels": false, "tickSize": 5, "domain": false, "title": null}}
              }
            }
          ],
          "resolve": {"scale": {"x": "independent", "y": "independent"}, "axis": {"x": "independent", "y": "independent"}}
        },
        {
          "width": 28, "height": 340, "view": {"stroke": null},
          "data": {"name": "cb3"},
          "mark": {"type": "rect", "stroke": "black", "strokeWidth": 1.5},
          "encoding": {
            "x": {"datum": 0, "type": "quantitative", "scale": {"domain": [0, 1]}, "axis": null},
            "x2": {"datum": 1},
            "y": {"field": "lo", "type": "quantitative", "scale": {"domain": [-0.3, 60.2], "nice": false, "zero": false}, "axis": {"orient": "right", "values": [0, 10, 20, 30, 40, 50, 60], "tickSize": 12, "labelPadding": 6, "labelFontSize": 21, "domain": false, "title": "s", "titleAngle": 0, "titleFontWeight": "normal", "titleFontSize": 28, "titleX": 63, "titleY": 177, "titleAlign": "center", "titleBaseline": "middle"}},
            "y2": {"field": "hi"},
            "color": {"condition": {"test": "datum.lo >= 30", "value": "black"}, "value": "white"}
          }
        }
      ],
      "spacing": 115, "bounds": "flush"
    }
  ],
  "spacing": 457,
  "bounds": "flush"
}
